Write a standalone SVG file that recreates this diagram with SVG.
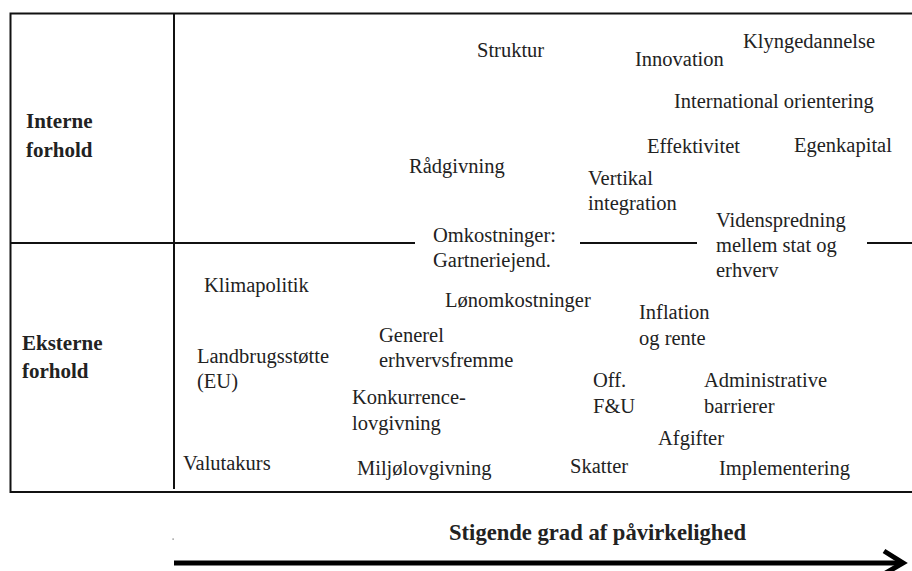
<svg xmlns="http://www.w3.org/2000/svg" width="912" height="571" viewBox="0 0 912 571">
<style>
  .t { font-family: "Liberation Serif", "Times New Roman", serif; font-size: 20.5px; fill: #222; }
  .b { font-family: "Liberation Serif", "Times New Roman", serif; font-size: 21px; font-weight: bold; fill: #222; }
  .ln { stroke: #111; stroke-width: 2; fill: none; }
</style>
<rect width="912" height="571" fill="#fff"/>
<g id="frame">
  <path class="ln" d="M912,13.5 H10.5 V492 H912"/>
  <path class="ln" d="M174,13.5 V489"/>
</g>
<g id="connectors">
  <path class="ln" d="M10.5,243 H415 M580,243 H697 M867,243 H912"/>
  <path d="M174,563 H900" stroke="#000" stroke-width="5" fill="none"/>
  <path d="M884,551 L903,563 L884,574" stroke="#000" stroke-width="5" fill="none"/>
  <rect x="172.5" y="538.5" width="1.2" height="1.2" fill="#666"/>
</g>
<g id="interne"><text class="b" x="26" y="128">Interne</text><text class="b" x="26" y="157">forhold</text></g>
<g id="eksterne"><text class="b" x="22" y="350">Eksterne</text><text class="b" x="22" y="378">forhold</text></g>
<g id="struktur"><text class="t" x="477" y="57">Struktur</text></g>
<g id="innovation"><text class="t" x="635" y="66">Innovation</text></g>
<g id="klyngedannelse"><text class="t" x="743" y="48">Klyngedannelse</text></g>
<g id="international"><text class="t" x="674" y="108">International orientering</text></g>
<g id="effektivitet"><text class="t" x="647" y="153">Effektivitet</text></g>
<g id="egenkapital"><text class="t" x="794" y="152">Egenkapital</text></g>
<g id="raadgivning"><text class="t" x="409" y="173">Rådgivning</text></g>
<g id="vertikal"><text class="t" x="588" y="185">Vertikal</text><text class="t" x="588" y="210">integration</text></g>
<g id="videnspredning"><text class="t" x="716" y="227">Videnspredning</text><text class="t" x="716" y="252">mellem stat og</text><text class="t" x="716" y="277">erhverv</text></g>
<g id="omkostninger"><text class="t" x="433" y="242">Omkostninger:</text><text class="t" x="433" y="267">Gartneriejend.</text></g>
<g id="klimapolitik"><text class="t" x="204" y="292">Klimapolitik</text></g>
<g id="loenomkostninger"><text class="t" x="445" y="307">Lønomkostninger</text></g>
<g id="generel"><text class="t" x="379" y="342">Generel</text><text class="t" x="379" y="367">erhvervsfremme</text></g>
<g id="landbrug"><text class="t" x="197" y="363">Landbrugsstøtte</text><text class="t" x="197" y="388">(EU)</text></g>
<g id="inflation"><text class="t" x="639" y="319">Inflation</text><text class="t" x="639" y="345">og rente</text></g>
<g id="off"><text class="t" x="593" y="387">Off.</text><text class="t" x="593" y="413">F&amp;U</text></g>
<g id="administrative"><text class="t" x="704" y="387">Administrative</text><text class="t" x="704" y="413">barrierer</text></g>
<g id="konkurrence"><text class="t" x="352" y="404">Konkurrence-</text><text class="t" x="352" y="430">lovgivning</text></g>
<g id="afgifter"><text class="t" x="658" y="445">Afgifter</text></g>
<g id="valutakurs"><text class="t" x="183" y="470">Valutakurs</text></g>
<g id="miljoe"><text class="t" x="357" y="475">Miljølovgivning</text></g>
<g id="skatter"><text class="t" x="570" y="473">Skatter</text></g>
<g id="implementering"><text class="t" x="719" y="475">Implementering</text></g>
<g id="axis-label"><text x="449" y="540" textLength="297" lengthAdjust="spacingAndGlyphs" style="font-family: 'Liberation Serif', 'Times New Roman', serif; font-size: 23px; font-weight: bold; fill: #222;">Stigende grad af påvirkelighed</text></g>
</svg>
